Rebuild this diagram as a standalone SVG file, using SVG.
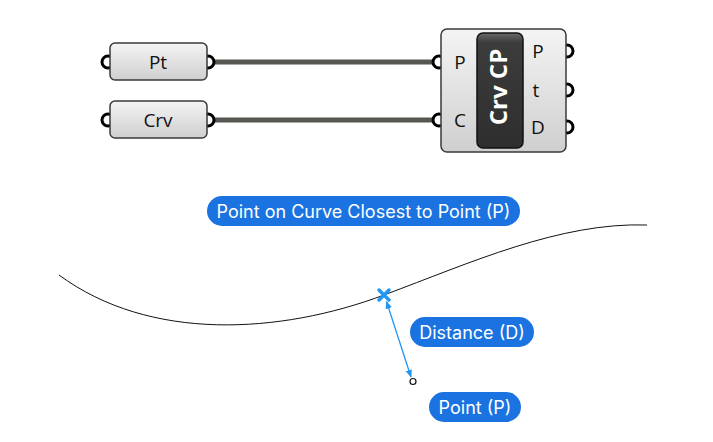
<svg xmlns="http://www.w3.org/2000/svg" width="713" height="442" viewBox="0 0 713 442">
<defs>
<linearGradient id="boxg" x1="0" y1="0" x2="0" y2="1">
<stop offset="0" stop-color="#f4f4f4"/>
<stop offset="1" stop-color="#cfcfcf"/>
</linearGradient>
<linearGradient id="capg" x1="0" y1="0" x2="0" y2="1">
<stop offset="0" stop-color="#6a6a6a"/>
<stop offset="0.08" stop-color="#3c3c3c"/>
<stop offset="1" stop-color="#2e2e2e"/>
</linearGradient>
<marker id="ah" viewBox="0 0 10 10" refX="9" refY="5" markerWidth="8" markerHeight="8" orient="auto-start-reverse" markerUnits="userSpaceOnUse">
<path d="M0,1 L10,5 L0,9 Z" fill="#2196f3"/>
</marker>
<style>
.box{fill:url(#boxg);stroke:#3a3a3a;stroke-width:1.5}
.grip{fill:#fff;stroke:#000;stroke-width:3}
.wire{stroke:#575752;stroke-width:5;fill:none}
.lbl{font-family:"Open Sans","Noto Sans",sans-serif;font-size:19px;fill:#111}
.pill{fill:#1a73e0}
.ptxt{font-family:Inter,"Noto Sans",sans-serif;font-size:18px;fill:#fff;text-anchor:middle}
</style>
</defs>
<g id="connectors">
<line class="wire" x1="212" y1="62" x2="434" y2="62"/>
<line class="wire" x1="212" y1="120" x2="434" y2="120"/>
</g>
<g id="node-pt">
<circle class="grip" cx="108" cy="62" r="6"/>
<circle class="grip" cx="208" cy="62" r="6"/>
<rect class="box" x="110" y="43" width="97" height="37" rx="5"/>
<text class="lbl" x="158" y="68.5" text-anchor="middle">Pt</text>
</g>
<g id="node-crv">
<circle class="grip" cx="108" cy="120" r="6"/>
<circle class="grip" cx="208" cy="120" r="6"/>
<rect class="box" x="110" y="101" width="97" height="37" rx="5"/>
<text class="lbl" x="158" y="126.5" text-anchor="middle">Crv</text>
</g>
<g id="node-crvcp">
<circle class="grip" cx="439" cy="62" r="6"/>
<circle class="grip" cx="439" cy="120" r="6"/>
<circle class="grip" cx="567" cy="51" r="6"/>
<circle class="grip" cx="567" cy="90" r="6"/>
<circle class="grip" cx="567" cy="127" r="6"/>
<rect class="box" x="441" y="29" width="125" height="123" rx="6"/>
<rect x="477" y="33" width="46" height="115" rx="6" fill="url(#capg)" stroke="#111" stroke-width="1.5"/>
<text class="lbl" x="460" y="68.5" text-anchor="middle">P</text>
<text class="lbl" x="460" y="126.5" text-anchor="middle">C</text>
<text class="lbl" x="538" y="57.5" text-anchor="middle">P</text>
<text class="lbl" x="536" y="96.5" text-anchor="middle">t</text>
<text class="lbl" x="538" y="133.5" text-anchor="middle">D</text>
<text transform="translate(507,87) rotate(-90)" text-anchor="middle" font-family="'Open Sans','Noto Sans',sans-serif" font-weight="bold" font-size="24" fill="#fff">Crv CP</text>
</g>
<g id="curve">
<path d="M59,275 C150,342 280,334 384,295 C470,263 560,222 647,225" fill="none" stroke="#111" stroke-width="1"/>
</g>
<g id="closest-point">
<line x1="386.5" y1="301.5" x2="411" y2="377" stroke="#2196f3" stroke-width="1.3" marker-start="url(#ah)" marker-end="url(#ah)"/>
<path d="M379,290 L389,300 M389,290 L379,300" stroke="#2196f3" stroke-width="3.5" stroke-linecap="round"/>
<circle cx="413" cy="381.5" r="3" fill="#fff" stroke="#111" stroke-width="1.2"/>
</g>
<g id="label-closest">
<rect class="pill" x="207" y="196" width="313" height="30" rx="15"/>
<text class="ptxt" x="363.5" y="217.5">Point on Curve Closest to Point (P)</text>
</g>
<g id="label-distance">
<rect class="pill" x="410" y="317" width="124" height="30" rx="15"/>
<text class="ptxt" x="472" y="338.5">Distance (D)</text>
</g>
<g id="label-point">
<rect class="pill" x="429" y="392" width="92" height="30" rx="15"/>
<text class="ptxt" x="475" y="413.5">Point (P)</text>
</g>
</svg>
